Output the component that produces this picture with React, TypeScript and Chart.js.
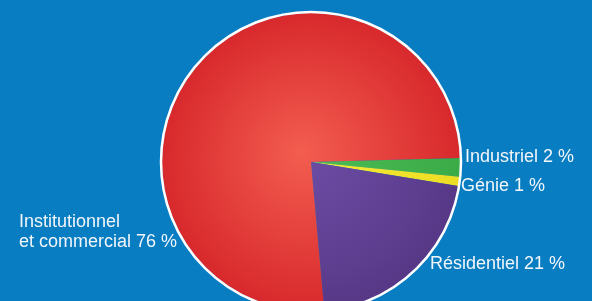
import React, { useEffect, useRef } from "react";
import { Chart, registerables } from "chart.js";

Chart.register(...registerables);

const categories = ["Industriel", "Génie", "Résidentiel", "Institutionnel et commercial"];
const shares = [2, 1, 21, 76];
const labelLines = [["Industriel 2 %"], ["Génie 1 %"], ["Résidentiel 21 %"], ["Institutionnel", "et commercial 76 %"]];

const BG = "#087dc2";

const colorStops: string[][] = [
  ["#4cbc55", "#3aab47"],
  ["#f6ec3a", "#eddc22"],
  ["#6d4ea6", "#573887"],
  ["#f35d50", "#d8292c"],
];

export default function App() {
  const ref = useRef<HTMLCanvasElement | null>(null);

  useEffect(() => {
    document.body.style.margin = "0";
    document.body.style.background = BG;
    const canvas = ref.current;
    if (!canvas) return;

    const outline = {
      id: "outline",
      afterDatasetsDraw(chart: any) {
        const arc = chart.getDatasetMeta(0).data[0];
        if (!arc) return;
        const ctx = chart.ctx;
        ctx.save();
        ctx.beginPath();
        ctx.arc(arc.x, arc.y, arc.outerRadius + 1, 0, Math.PI * 2);
        ctx.strokeStyle = "#ffffff";
        ctx.lineWidth = 2.5;
        ctx.stroke();
        ctx.restore();
      },
      afterDraw(chart: any) {
        const ctx = chart.ctx;
        ctx.save();
        ctx.fillStyle = "#f2f6fa";
        ctx.font = "18px 'Liberation Sans', Arial, sans-serif";
        ctx.textBaseline = "alphabetic";
        const pos = [
          [465, 162],
          [461, 191],
          [430, 269],
          [19, 227],
        ];
        labelLines.forEach((lines, i) => {
          lines.forEach((t, j) => {
            ctx.fillText(t, pos[i][0], pos[i][1] + j * 20);
          });
        });
        ctx.restore();
      },
    };

    const chart = new Chart(canvas, {
      type: "pie",
      data: {
        labels: categories,
        datasets: [
          {
            data: shares,
            borderWidth: 0,
            hoverOffset: 0,
            offset: 0,
            backgroundColor: (c: any) => {
              const ch = c.chart;
              const a = ch.chartArea;
              const i = c.dataIndex;
              if (!a) return colorStops[i][1];
              const cx = (a.left + a.right) / 2;
              const cy = (a.top + a.bottom) / 2;
              const r = Math.min(a.right - a.left, a.bottom - a.top) / 2;
              const g = ch.ctx.createRadialGradient(cx - 10, cy - 10, 0, cx, cy, r);
              g.addColorStop(0, colorStops[i][0]);
              g.addColorStop(1, colorStops[i][1]);
              return g;
            },
          },
        ],
      },
      options: {
        responsive: false,
        animation: false,
        rotation: 88.5,
        layout: { padding: { top: 13, bottom: 13, left: 30, right: 0 } },
        plugins: {
          legend: { display: false },
          tooltip: { enabled: false },
        },
      },
      plugins: [outline],
    });
    return () => chart.destroy();
  }, []);

  return (
    <div style={{ width: 592, height: 301, overflow: "hidden", position: "relative", background: BG }}>
      <canvas ref={ref} width={592} height={324} style={{ display: "block" }} />
    </div>
  );
}
